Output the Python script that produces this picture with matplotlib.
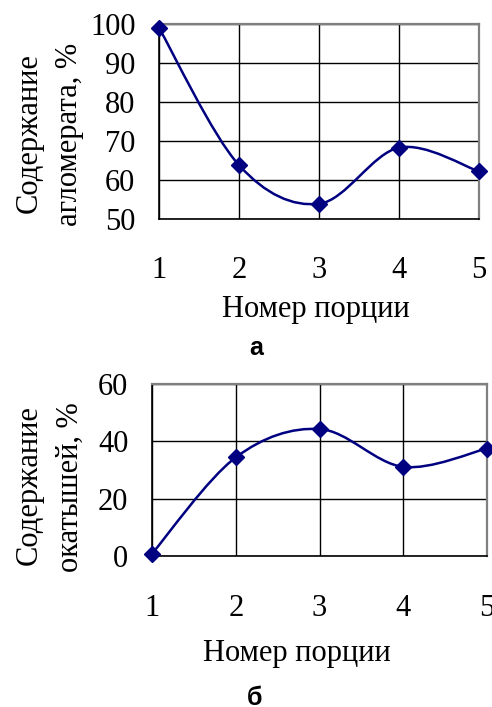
import numpy as np
import matplotlib
matplotlib.use("Agg")
import matplotlib.pyplot as plt
from matplotlib.path import Path
from matplotlib.patches import PathPatch

# данные
portions = [1, 2, 3, 4, 5]
sinter = [99.0, 63.8, 53.9, 68.3, 62.2]
pellets = [0.8, 34.4, 44.3, 31.1, 37.5]
sinter_ticks = [50, 60, 70, 80, 90, 100]
pellet_ticks = [0, 20, 40, 60]

NAVY = "#000080"
plt.rcParams['font.family'] = ['Liberation Serif', 'DejaVu Serif']
W, H = 492, 707
FS = 22


def smooth_path(x, y):
    # сглаживание как в Excel (Catmull-Rom -> Bezier)
    pts = np.column_stack([x, y]).astype(float)
    n = len(pts)
    verts = [pts[0]]
    codes = [Path.MOVETO]
    for i in range(n - 1):
        p0 = pts[max(i - 1, 0)]
        p1 = pts[i]
        p2 = pts[i + 1]
        p3 = pts[min(i + 2, n - 1)]
        verts += [p1 + (p2 - p0) / 6.0, p2 - (p3 - p1) / 6.0, p2]
        codes += [Path.CURVE4] * 3
    return Path(verts, codes)


def box(l, t, r, b):
    return [l / W, 1 - b / H, (r - l) / W, (b - t) / H]


def px_text(x, y, s, **kw):
    # текст в пикселях от левого верхнего угла
    return fig.text(x / W, 1 - y / H, s, **kw)


def draw(ax, y, yticks):
    ax.add_patch(PathPatch(smooth_path(portions, y), facecolor="none",
                           edgecolor=NAVY, lw=1.8, zorder=3, clip_on=False))
    ax.plot(portions, y, ls="none", marker="D", ms=8.5, color=NAVY,
            zorder=4, clip_on=False)
    ax.set_xlim(1, 5)
    ax.set_ylim(yticks[0], yticks[-1])
    ax.set_xticks(portions)
    ax.set_yticks(yticks)
    ax.grid(True, color="black", lw=1.0)
    ax.tick_params(axis="both", length=0, labelsize=FS)
    ax.tick_params(axis="x", pad=27)
    ax.tick_params(axis="y", pad=17)
    for s in ["left", "bottom"]:
        ax.spines[s].set_color("black")
        ax.spines[s].set_linewidth(1.2)
    for s in ["top", "right"]:
        ax.spines[s].set_color("#808080")
        ax.spines[s].set_linewidth(1.6)


fig = plt.figure(figsize=(W / 100, H / 100), dpi=100)
ax1 = fig.add_axes(box(159, 24, 479, 219))
ax2 = fig.add_axes(box(152, 384, 487, 556))

draw(ax1, sinter, sinter_ticks)
draw(ax2, pellets, pellet_ticks)

# подписи осей Y (две строки, повернуты)
ylab = dict(rotation=90, rotation_mode="anchor", ha="center", va="baseline", fontsize=FS)
px_text(37, 133, "Содержание", **ylab)
px_text(77, 134, "агломерата, %", **ylab)
px_text(37, 485, "Содержание", **ylab)
px_text(78, 487, "окатышей, %", **ylab)

# подписи осей X
px_text(316, 317, "Номер порции", ha="center", va="baseline", fontsize=FS)
px_text(297, 661, "Номер порции", ha="center", va="baseline", fontsize=FS)

letter_font = ['Liberation Sans Narrow', 'Liberation Sans', 'DejaVu Sans']
px_text(256, 348, "а", family=letter_font, weight="bold",
        fontsize=18, ha="center", va="center")
px_text(255, 698, "б", family=letter_font, weight="bold",
        fontsize=18, ha="center", va="center")

fig.savefig("out.png", dpi=100)
